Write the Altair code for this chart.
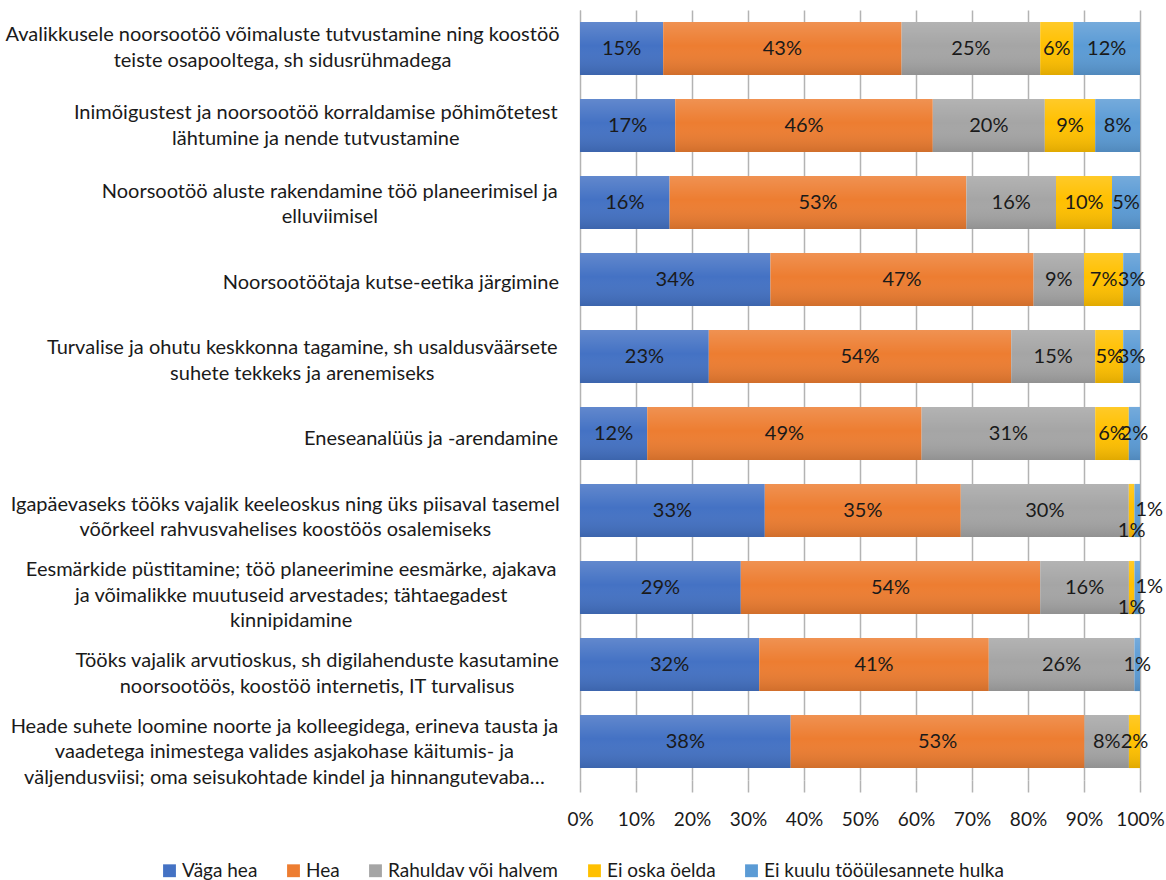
import altair as alt
import pandas as pd

# ---- data ----
categories = [
    "Avalikkusele noorsootöö võimaluste tutvustamine ning koostöö|teiste osapooltega, sh sidusrühmadega",
    "Inimõigustest ja noorsootöö korraldamise põhimõtetest|lähtumine ja nende tutvustamine",
    "Noorsootöö aluste rakendamine töö planeerimisel ja|elluviimisel",
    "Noorsootöötaja kutse-eetika järgimine",
    "Turvalise ja ohutu keskkonna tagamine, sh usaldusväärsete|suhete tekkeks ja arenemiseks",
    "Eneseanalüüs ja -arendamine",
    "Igapäevaseks tööks vajalik keeleoskus ning üks piisaval tasemel|võõrkeel rahvusvahelises koostöös osalemiseks",
    "Eesmärkide püstitamine; töö planeerimine eesmärke, ajakava|ja võimalikke muutuseid arvestades; tähtaegadest|kinnipidamine",
    "Tööks vajalik arvutioskus, sh digilahenduste kasutamine|noorsootöös, koostöö internetis, IT turvalisus",
    "Heade suhete loomine noorte ja kolleegidega, erineva tausta ja|vaadetega inimestega valides asjakohase käitumis- ja|väljendusviisi; oma seisukohtade kindel ja hinnangutevaba…",
]
series = ["Väga hea", "Hea", "Rahuldav või halvem", "Ei oska öelda", "Ei kuulu tööülesannete hulka"]
vaga_hea = [15, 17, 16, 34, 23, 12, 33, 29, 32, 38]
hea = [43, 46, 53, 47, 54, 49, 35, 54, 41, 53]
rahuldav = [25, 20, 16, 9, 15, 31, 30, 16, 26, 8]
ei_oska = [6, 9, 10, 7, 5, 6, 1, 1, 0, 2]
ei_kuulu = [12, 8, 5, 3, 3, 2, 1, 1, 1, 0]
colors = ["#4472C4", "#ED7D31", "#A5A5A5", "#FFC000", "#5B9BD5"]
x_ticks = [0, 0.1, 0.2, 0.3, 0.4, 0.5, 0.6, 0.7, 0.8, 0.9, 1.0]

cols = [vaga_hea, hea, rahuldav, ei_oska, ei_kuulu]
rows = []
for i, cat in enumerate(categories):
    tight = ei_oska[i] == 1 and ei_kuulu[i] == 1
    for j, s in enumerate(series):
        rows.append({"cat": cat, "series": s, "order": j, "value": cols[j][i], "tight": tight})
df = pd.DataFrame(rows)

FONT = "Lato"
FS = 20
GAP = 22

# approximate glyph advance widths (per 1000 em) used to centre the multi-line labels
_W = dict(a=479, b=525, c=423, d=525, e=498, f=305, g=471, h=525, i=229, j=239, k=455, l=229,
          m=799, n=525, o=527, p=525, q=525, r=349, s=391, t=335, u=525, v=452, w=715, x=433,
          y=453, z=395, A=579, E=488, H=623, I=252, N=646, T=487)
_W.update({" ": 226, ",": 250, ".": 252, ";": 268, "-": 306, "…": 690, "%": 715,
           "ä": 479, "õ": 527, "ö": 527, "ü": 525})


def text_w(s):
    return sum(_W.get(ch, 520) for ch in s) / 1000 * FS * 1.068


pad_expr = ""
for cat in categories:
    longest = max(text_w(p) for p in cat.split("|"))
    pad = GAP + longest / 2
    pad_expr += f"datum.value == '{cat}' ? {pad:.1f} : "
pad_expr += "20"

LH = 25.5
off_expr = f"-(length(split(datum.value, '|')) - 1) * {LH / 2} + datum.index * 11 - 0.5"

base = alt.Chart(df).transform_joinaggregate(
    total="sum(value)", groupby=["cat"]
).transform_calculate(
    pct="datum.value / datum.total"
).transform_stack(
    stack="pct", as_=["x0", "x1"], groupby=["cat"], sort=[alt.SortField("order", order="ascending")]
).transform_calculate(
    mid="(datum.x0 + datum.x1) / 2"
)

yenc = alt.Y(
    "cat:N",
    sort=categories,
    scale=alt.Scale(paddingInner=0.31, paddingOuter=0.155),
    axis=alt.Axis(
        title=None,
        ticks=False,
        tickSize=0,
        domain=True,
        domainColor="#b3b3b3",
        labelExpr="split(datum.label, '|')",
        labelAlign="center",
        labelBaseline="middle",
        labelPadding={"expr": pad_expr},
        labelOffset={"expr": off_expr},
        labelLineHeight=LH,
        labelFont=FONT,
        labelFontSize=FS,
        labelColor="#1a1a1a",
        labelLimit=0,
    ),
)

bars = base.mark_bar().encode(
    y=yenc,
    x=alt.X(
        "x0:Q",
        scale=alt.Scale(domain=[0, 1], nice=False),
        axis=alt.Axis(
            title=None,
            values=x_ticks,
            format=".0%",
            domain=False,
            ticks=True,
            tickSize=12,
            tickColor="#b3b3b3",
            tickWidth=1.5,
            grid=True,
            gridColor="#b3b3b3",
            gridWidth=1.5,
            labelPadding=18,
            labelOverlap=False,
            labelFlush=False,
            labelFont=FONT,
            labelFontSize=19,
            labelColor="#1a1a1a",
        ),
    ),
    x2="x1:Q",
    color=alt.Color(
        "series:N",
        sort=series,
        scale=alt.Scale(domain=series, range=colors),
        legend=alt.Legend(
            title=None,
            orient="none",
            direction="horizontal",
            legendX=-420,
            legendY=851,
            symbolType="square",
            symbolSize=165,
            symbolStrokeWidth=0,
            labelFont=FONT,
            labelFontSize=19,
            labelColor="#1a1a1a",
            labelLimit=0,
            columnPadding=26,
            symbolOffset=0,
            labelOffset=3,
        ),
    ),
    order=alt.Order("order:Q"),
)

# soft vertical shading over each segment (light top, darker bottom)
shade = base.mark_bar(
    color=alt.LinearGradient(
        gradient="linear",
        x1=0, y1=0, x2=0, y2=1,
        stops=[
            alt.GradientStop(color="rgba(255,255,255,0.16)", offset=0),
            alt.GradientStop(color="rgba(255,255,255,0.0)", offset=0.45),
            alt.GradientStop(color="rgba(0,0,0,0.12)", offset=1),
        ],
    )
).encode(
    y=alt.Y("cat:N", sort=categories),
    x=alt.X("x0:Q"),
    x2="x1:Q",
)

text_kw = dict(font=FONT, fontSize=FS, color="#1a1a1a", baseline="middle", align="center")

labels_main = base.transform_filter(
    "datum.value > 0 && !(datum.tight && datum.order >= 3)"
).mark_text(**text_kw).encode(
    y=alt.Y("cat:N", sort=categories),
    x=alt.X("mid:Q"),
    text=alt.Text("label:N"),
).transform_calculate(label="datum.value + '%'")

labels_blue_tight = base.transform_filter(
    "datum.tight && datum.order == 4"
).mark_text(dx=12, dy=-1, **text_kw).encode(
    y=alt.Y("cat:N", sort=categories),
    x=alt.X("mid:Q"),
    text=alt.Text("label:N"),
).transform_calculate(label="datum.value + '%'")

labels_yellow_tight = base.transform_filter(
    "datum.tight && datum.order == 3"
).mark_text(dy=20, **text_kw).encode(
    y=alt.Y("cat:N", sort=categories),
    x=alt.X("mid:Q"),
    text=alt.Text("label:N"),
).transform_calculate(label="datum.value + '%'")

chart = alt.layer(bars, shade, labels_main, labels_blue_tight, labels_yellow_tight).properties(
    width=560,
    height=770,
    autosize=alt.AutoSizeParams(type="none"),
    padding={"left": 580, "top": 10, "right": 26, "bottom": 100},
    background="white",
).configure_view(stroke=None)

chart.save("out.html", embed_options={"renderer": "svg", "actions": False})
